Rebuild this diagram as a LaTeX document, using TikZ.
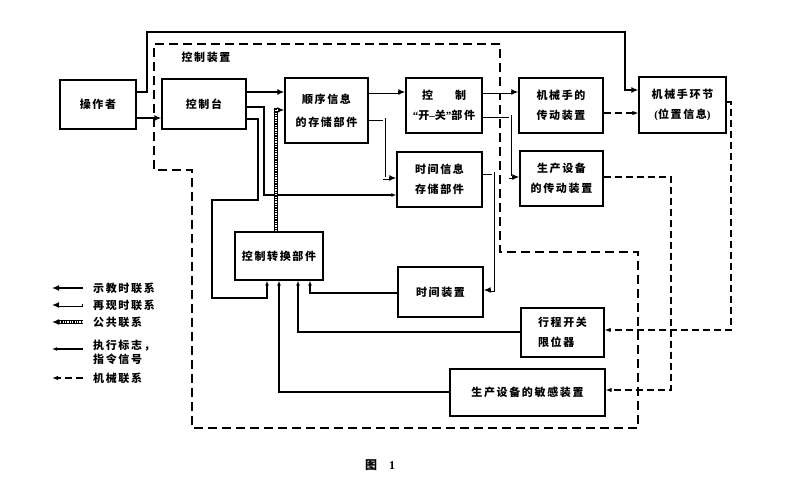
\documentclass[tikz,border=0pt]{standalone}
\usepackage{fontspec}
\setmainfont[LetterSpace=15]{Noto Sans CJK SC}
\newfontfamily\lat{Liberation Serif}
\usetikzlibrary{arrows.meta}
% double line of the replay links, hatched line of the common link
\newcommand{\twinpath}[1]{\draw[replay] #1; \draw[replaycore] #1;}
\newcommand{\hatchpath}[1]{\draw[common] #1; \draw[commoncore] #1;}

\begin{document}
\begin{tikzpicture}[x=1pt,y=-1pt,line join=miter]
\path[fill=white] (0,0) rectangle (790,490);
\tikzset{unit/.style={draw,line width=1.3pt,align=center,inner sep=2pt,font=\fontsize{11}{20}\selectfont\bfseries},
  legtxt/.style={anchor=west,align=left,inner sep=0pt,font=\fontsize{11}{14}\selectfont\bfseries},
  teach/.style={line width=2.2pt,-{Latex[length=7pt,width=6pt]}},
  replay/.style={draw=black,line width=3pt,-{Latex[length=7pt,width=6pt]}},
  replaycore/.style={draw=white,line width=1.2pt,shorten >=7pt,shorten <=0.7pt},
  common/.style={draw=black,line width=3.2pt,-{Latex[length=7pt,width=6pt]}},
  commoncore/.style={draw=white,line width=1.3pt,dash pattern=on 1.2pt off 1.2pt,shorten >=7pt},
  signal/.style={line width=1.1pt,-{Latex[length=5pt,width=3.8pt]}},
  mech/.style={line width=1.1pt,dash pattern=on 7pt off 4pt,-{Latex[length=6pt,width=4.5pt]}},
  frame/.style={line width=1.2pt,dash pattern=on 9pt off 5pt}}
% frame of the control device
\draw[frame] (500,44) -- (154,44) -- (154,170) -- (192,170) -- (192,428) -- (638,428) -- (638,252) -- (500,252) -- cycle;
\node[anchor=west,font=\fontsize{11}{13}\selectfont\bfseries] (framelbl) at (178,57) {控制装置};
% units
\node[unit,minimum width=76pt,minimum height=49pt] (op) at (98,104.5) {操作者};
\node[unit,minimum width=84pt,minimum height=50pt] (desk) at (204,104) {控制台};
\node[unit,minimum width=83pt,minimum height=65pt,font=\fontsize{11}{23}\selectfont\bfseries] (seq) at (326.5,110.5) {顺序信息\\的存储部件};
\node[unit,minimum width=76pt,minimum height=55pt] (onoff) at (444,105.5) {控\qquad 制\\{\lat “}开{\lat –}关{\lat ”}部件};
\node[unit,minimum width=84pt,minimum height=55pt] (arm) at (561,105.5) {机械手的\\传动装置};
\node[unit,minimum width=83pt,minimum height=55pt] (drive) at (561.5,178.5) {生产设备\\的传动装置};
\node[unit,minimum width=87pt,minimum height=56pt] (hand) at (682.5,105) {机械手环节\\{\lat (}位置信息{\lat )}};
\node[unit,minimum width=85pt,minimum height=55pt] (tinfo) at (439.5,179.5) {时间信息\\存储部件};
\node[unit,minimum width=88pt,minimum height=48pt] (conv) at (279,256) {控制转换部件};
\node[unit,minimum width=85pt,minimum height=50pt] (timer) at (440.5,292) {时间装置};
\node[unit,minimum width=83pt,minimum height=49pt,align=left] (limit) at (562.5,332.5) {行程开关\\限位器};
\node[unit,minimum width=155pt,minimum height=47pt] (sense) at (527.5,392.5) {生产设备的敏感装置};
% teaching links
\draw[teach] (op.east |- 0,92) -- (147,92) -- (147,32) -- (625,32) -- (625,90) -- (hand.west |- 0,90);
\draw[teach] (op.east |- 0,118) -- (desk.west |- 0,118);
\draw[teach] (desk.east |- 0,92) -- (seq.west |- 0,92);
% signals
\draw[signal] (desk.east |- 0,107) -- (264,107) -- (264,195) -- (tinfo.west |- 0,195);
\draw[signal] (desk.east |- 0,119) -- (258,119) -- (258,200) -- (212,200) -- (212,298) -- (267,298) -- (conv.south -| 267,0);
\draw[signal] (timer.west |- 0,293) -- (310,293) -- (conv.south -| 310,0);
\draw[signal] (limit.west |- 0,332) -- (298,332) -- (conv.south -| 298,0);
\draw[signal] (sense.west |- 0,392) -- (279,392) -- (conv.south -| 279,0);
% common link
\hatchpath{(conv.north -| 276,0) -- (276,110) -- (seq.west |- 0,110)}
% replay links
\twinpath{(seq.east |- 0,92) -- (onoff.west |- 0,92)}
\twinpath{(seq.east |- 0,119) -- (384,119) -- (384,178) -- (tinfo.west |- 0,178)}
\twinpath{(onoff.east |- 0,92) -- (arm.west |- 0,92)}
\twinpath{(onoff.east |- 0,116) -- (510,116) -- (510,177) -- (drive.west |- 0,177)}
\twinpath{(tinfo.east |- 0,173) -- (493,173) -- (493,290) -- (timer.east |- 0,290)}
% mechanical links
\draw[mech] (arm.east |- 0,113) -- (hand.west |- 0,113);
\draw[mech] (hand.east |- 0,102) -- (731,102) -- (731,330) -- (limit.east |- 0,330);
\draw[mech] (drive.east |- 0,177) -- (671,177) -- (671,390) -- (sense.east |- 0,390);
% legend
\node[legtxt] (kteach) at (93,288) {示教时联系};
\node[legtxt] (kreplay) at (93,305) {再现时联系};
\node[legtxt] (kcommon) at (93,322) {公共联系};
\node[legtxt] (ksignal) at (93,352) {执行标志，\\指令信号};
\node[legtxt] (kmech) at (93,378) {机械联系};
\draw[teach] ([xshift=-10pt]kteach.west) -- ++(-31,0);
\twinpath{([xshift=-10pt]kreplay.west) -- ++(-31,0)}
\hatchpath{([xshift=-10pt]kcommon.west) -- ++(-31,0)}
\draw[signal] ([xshift=-10pt]ksignal.west |- 0,349) -- ++(-31,0);
\draw[mech] ([xshift=-10pt]kmech.west) -- ++(-31,0);
% caption
\node[font=\fontsize{12}{14}\selectfont\bfseries] (cap) at (380,465) {图\quad{\lat\bfseries 1}};
\end{tikzpicture}
\end{document}
